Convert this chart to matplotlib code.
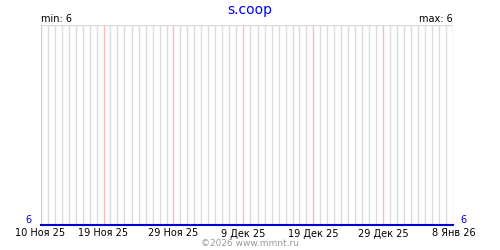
import matplotlib
matplotlib.use("Agg")
import matplotlib.pyplot as plt
import datetime as dt

title = "s.coop"
start_date = dt.date(2025, 11, 10)
values = [6, 6, 6, 6, 6, 6, 6, 6, 6, 6,
          6, 6, 6, 6, 6, 6, 6, 6, 6, 6,
          6, 6, 6, 6, 6, 6, 6, 6, 6, 6,
          6, 6, 6, 6, 6, 6, 6, 6, 6, 6,
          6, 6, 6, 6, 6, 6, 6, 6, 6, 6,
          6, 6, 6, 6, 6, 6, 6, 6, 6, 6]
tick_days = [0, 9, 19, 29, 39, 49, 59]
tick_labels = ["10 Ноя 25", "19 Ноя 25", "29 Ноя 25", "9 Дек 25",
               "19 Дек 25", "29 Дек 25", "8 Янв 26"]
min_label = "min: 6"
max_label = "max: 6"
credit = "©2026 www.mmnt.ru"

days = list(range(len(values)))
fig = plt.figure(figsize=(5, 2.5), dpi=100)
ax = fig.add_axes([40.5/500, 25/250, 413/500, 200/250])

ymin, ymax = 6, 7
gray_days = [d for d in days if d not in tick_days]
ax.vlines(gray_days, ymin, ymax, colors="#dcdcdc", lw=1.0, zorder=1, snap=True)
ax.vlines(tick_days, ymin, ymax, colors="#ffb8b8", lw=1.0, zorder=2, snap=True)
ax.axhline(ymax, color="#dcdcdc", lw=1.0, zorder=1, snap=True)
ax.plot(days, values, color="#0000cc", lw=1.5, zorder=3, clip_on=False)

ax.set_xlim(0, 59)
ax.set_ylim(ymin, ymax)
for s in ax.spines.values():
    s.set_visible(False)
ax.set_yticks([])
ax.set_xticks(tick_days)
ax.set_xticklabels(tick_labels, fontsize=7)
ax.tick_params(axis="x", length=0, pad=2.5)

ax.text(-1.3, ymin, "6", color="#0000cc", fontsize=7, ha="right", va="bottom")
ax.text(60.0, ymin, "6", color="#0000cc", fontsize=7, ha="left", va="bottom")
fig.text(41/500, 1 - 19/250, min_label, fontsize=7, ha="left", va="center")
fig.text(453/500, 1 - 19/250, max_label, fontsize=7, ha="right", va="center")
fig.text(0.5, 1 - 10/250, title, color="#0000ff", fontsize=10, ha="center", va="center")
fig.text(0.5, 1 - 244/250, credit, color="#999999", fontsize=6.5, ha="center", va="center")

fig.savefig("out.png", dpi=100)
